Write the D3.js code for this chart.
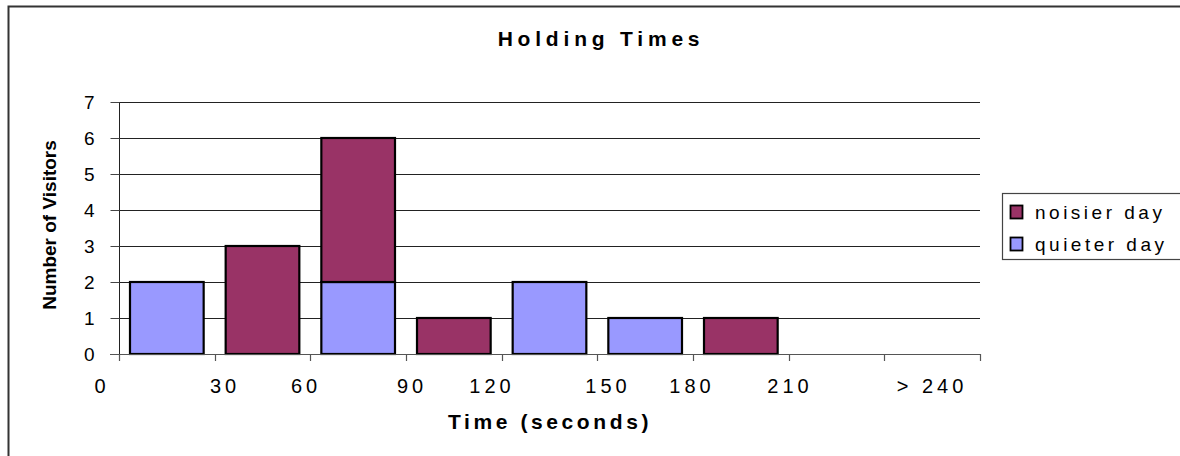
<!DOCTYPE html>
<html>
<head>
<meta charset="utf-8">
<script src="https://cdn.jsdelivr.net/npm/d3@7"></script>
<style>
  html, body { margin: 0; padding: 0; background: #fff; }
  svg { display: block; font-family: "Liberation Sans", Arial, sans-serif; }
</style>
</head>
<body>
<svg id="chart" width="1180" height="456"></svg>
<script>
// Holding-time bins (30-second buckets, last one open-ended)
const bins = ["0-30", "30-60", "60-90", "90-120", "120-150", "150-180", "180-210", "210-240", ">240"];
const quieterDay = [2, 0, 2, 0, 2, 1, 0, 0, 0];
const noisierDay = [0, 3, 4, 1, 0, 0, 1, 0, 0];
const seriesNames = ["noisier day", "quieter day"];
const xTickLabels = ["0", "30", "60", "90", "120", "150", "180", "210", "> 240"];
const yTicks = [0, 1, 2, 3, 4, 5, 6, 7];

// layout
const W = 1180, H = 456;
const plot = { left: 119, right: 980, top: 102, bottom: 354 };
const xLabelX = [100, 223, 304, 410, 490, 606, 690, 788, 930];
const colors = { "noisier day": "#993366", "quieter day": "#9999FF" };
const FONT = "Liberation Sans, Arial, sans-serif";

const svg = d3.select("#chart");

// outer chart frame
svg.append("rect")
  .attr("x", 8.5).attr("y", 6.5)
  .attr("width", W).attr("height", H)
  .attr("fill", "#fff").attr("stroke", "#333").attr("stroke-width", 2);

const x = d3.scaleBand().domain(bins).range([plot.left, plot.right]).paddingInner(0.23).paddingOuter(0.115);
const xb = d3.scaleBand().domain(bins).range([plot.left, plot.right]);
const y = d3.scaleLinear().domain([0, 7]).range([plot.bottom, plot.top]);

// horizontal gridlines
svg.append("g").selectAll("line").data(yTicks.slice(1)).join("line")
  .attr("x1", plot.left).attr("x2", plot.right)
  .attr("y1", d => Math.round(y(d)) + 0.5).attr("y2", d => Math.round(y(d)) + 0.5)
  .attr("stroke", "#222").attr("stroke-width", 1);

// stacked bars
const rows = bins.map((b, i) => ({ bin: b, "quieter day": quieterDay[i], "noisier day": noisierDay[i] }));
const stack = d3.stack().keys(["quieter day", "noisier day"])(rows);

svg.append("g").selectAll("g").data(stack).join("g")
  .attr("fill", d => colors[d.key])
  .selectAll("rect").data(d => d.filter(s => s[1] - s[0] > 0)).join("rect")
  .attr("x", d => x(d.data.bin))
  .attr("width", x.bandwidth())
  .attr("y", d => y(d[1]))
  .attr("height", d => y(d[0]) - y(d[1]))
  .attr("stroke", "#000").attr("stroke-width", 2.2);

// y axis
const yAxis = svg.append("g").attr("transform", `translate(${plot.left + 0.5},0)`)
  .call(d3.axisLeft(y).tickValues(yTicks).tickSize(9).tickPadding(16).tickFormat(d3.format("d")));
yAxis.select(".domain").attr("stroke", "#222").attr("d", `M0,${plot.top}V${plot.bottom}`);
yAxis.selectAll(".tick line").attr("stroke", "#444");
yAxis.selectAll(".tick text")
  .attr("font-family", FONT)
  .attr("font-size", 19).attr("fill", "#000").attr("dy", "0.36em");

// x axis: baseline with ticks at bin boundaries
const xg = svg.append("g");
xg.append("line")
  .attr("x1", plot.left - 9).attr("x2", plot.right)
  .attr("y1", plot.bottom + 0.5).attr("y2", plot.bottom + 0.5)
  .attr("stroke", "#555").attr("stroke-width", 1.2);
const boundaries = bins.map(b => xb(b)).concat([plot.right]);
xg.selectAll("line.tk").data(boundaries).join("line").attr("class", "tk")
  .attr("x1", d => Math.round(d) + 0.5).attr("x2", d => Math.round(d) + 0.5)
  .attr("y1", plot.bottom).attr("y2", plot.bottom + 7)
  .attr("stroke", "#555").attr("stroke-width", 1.2);

xg.selectAll("text").data(xTickLabels).join("text")
  .attr("x", (d, i) => xLabelX[i] + 2)
  .attr("y", 393)
  .attr("text-anchor", "middle")
  .attr("font-size", 20).attr("letter-spacing", 4)
  .text(d => d);

// titles
svg.append("text")
  .attr("x", 601).attr("y", 46).attr("text-anchor", "middle")
  .attr("font-size", 21).attr("font-weight", "bold").attr("letter-spacing", 4.8)
  .text("Holding Times");

svg.append("text")
  .attr("x", 550).attr("y", 429).attr("text-anchor", "middle")
  .attr("font-size", 21).attr("font-weight", "bold").attr("letter-spacing", 3.6)
  .text("Time (seconds)");

svg.append("text")
  .attr("transform", `translate(56,225) rotate(-90)`)
  .attr("text-anchor", "middle")
  .attr("font-size", 19).attr("font-weight", "bold")
  .text("Number of Visitors");

// legend
const lg = svg.append("g");
lg.append("rect")
  .attr("x", 1002.5).attr("y", 193.5).attr("width", 200).attr("height", 66)
  .attr("fill", "#fff").attr("stroke", "#444").attr("stroke-width", 1.2);
const items = lg.selectAll("g").data(seriesNames).join("g")
  .attr("transform", (d, i) => `translate(1010,${205 + i * 32})`);
items.append("rect")
  .attr("x", 0.5).attr("y", 0.5)
  .attr("width", 12).attr("height", 13)
  .attr("fill", d => colors[d]).attr("stroke", "#000").attr("stroke-width", 1.8);
items.append("text")
  .attr("x", 25).attr("y", 14)
  .attr("font-size", 19).attr("letter-spacing", 3.5)
  .text(d => d);
</script>
</body>
</html>
